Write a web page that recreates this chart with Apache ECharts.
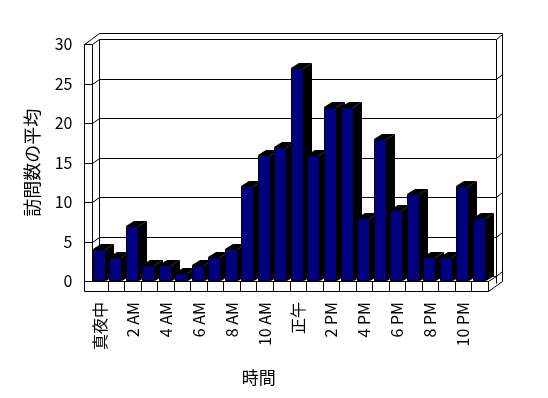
<html>
<head>
    <meta charset='utf-8'/>
    <title>訪問数の平均</title>
    <style>
        body { margin: 0; padding: 0; background: #fff; }
        #chart { width: 548px; height: 398px; }
    </style>
</head>
<body>
<div id='chart'></div>
<script src="https://cdn.jsdelivr.net/npm/echarts@6/dist/echarts.min.js"></script>
<script type="text/javascript">
    var hours = ['真夜中', '1 AM', '2 AM', '3 AM', '4 AM', '5 AM', '6 AM', '7 AM', '8 AM', '9 AM', '10 AM', '11 AM',
        '正午', '1 PM', '2 PM', '3 PM', '4 PM', '5 PM', '6 PM', '7 PM', '8 PM', '9 PM', '10 PM', '11 PM'];
    var visits = [4, 3, 7, 2, 2, 1, 2, 3, 4, 12, 16, 17, 27, 16, 22, 22, 8, 18, 9, 11, 3, 3, 12, 8];
    var yTicks = [0, 5, 10, 15, 20, 25, 30];

    var font = "'Noto Sans CJK JP', sans-serif";
    var DX = 7.5, DY = -5;   // depth of the box
    var WALL = 8;            // left wall / floor thickness

    function px(v) { return Math.round(v) + 0.5; }

    // front-plane edges in pixels
    function edges(api) {
        var band = api.size([1, 0])[0];
        var first = api.coord([0, 0]);
        var last = api.coord([hours.length - 1, 30]);
        return {
            band: band,
            L: first[0] - band / 2,
            R: last[0] + band / 2,
            Y0: first[1],
            YT: last[1]
        };
    }

    var lineStyle = {stroke: '#000', lineWidth: 1, fill: null};

    function renderGrid(params, api) {
        var e = edges(api);
        var y = api.coord([0, api.value(0)])[1];
        return {
            type: 'polyline',
            shape: {points: [
                [px(e.L - WALL), px(y)], [px(e.L), px(y)],
                [px(e.L + DX), px(y + DY)], [px(e.R + DX), px(y + DY)],
                [px(e.R + DX + 6), px(y + DY - 5)]
            ]},
            style: lineStyle
        };
    }

    function renderFrame(params, api) {
        var e = edges(api);
        var fl = e.Y0 + 10;   // floor front bottom
        var children = [
            // outer outline
            {type: 'polyline', shape: {points: [
                [px(e.L - WALL), px(fl)], [px(e.L - WALL), px(e.YT)],
                [px(e.L - WALL + DX), px(e.YT + DY)], [px(e.L + DX), px(e.YT + DY - 6)],
                [px(e.R + DX + 6), px(e.YT + DY - 6)], [px(e.R + DX + 6), px(e.Y0)],
                [px(e.R), px(fl)], [px(e.L - WALL), px(fl)]
            ]}, style: lineStyle},
            // inner edges
            {type: 'polyline', shape: {points: [
                [px(e.L), px(e.Y0)], [px(e.L), px(e.YT)]
            ]}, style: lineStyle},
            {type: 'polyline', shape: {points: [
                [px(e.L + DX), px(e.Y0 + DY)], [px(e.L + DX), px(e.YT + DY)]
            ]}, style: lineStyle},
            {type: 'polyline', shape: {points: [
                [px(e.R + DX), px(e.YT + DY)], [px(e.R + DX), px(e.Y0 + 2)]
            ]}, style: lineStyle},
            {type: 'polyline', shape: {points: [
                [px(e.R), px(fl)], [px(e.R), px(e.Y0)], [px(e.R + DX), px(e.Y0 + DY)]
            ]}, style: lineStyle}
        ];
        return {type: 'group', children: children};
    }

    function renderBar(params, api) {
        var e = edges(api);
        var c = api.coord([api.value(0), api.value(1)]);
        var base = api.coord([api.value(0), 0]);
        var x0 = Math.round(c[0] - e.band / 2 + 1.2);
        var x1 = Math.round(x0 + e.band * 0.8);
        var yt = Math.round(c[1]);
        var yb = Math.round(base[1]);
        var dx = Math.round(DX), dy = DY;
        return {
            type: 'group',
            children: [
                {type: 'polygon', shape: {points: [[x1, yt], [x1 + dx, yt + dy], [x1 + dx, yb + dy], [x1, yb]]},
                    style: {fill: '#000'}},
                {type: 'polygon', shape: {points: [[x0, yt], [x0 + dx, yt + dy], [x1 + dx, yt + dy], [x1, yt]]},
                    style: {fill: '#000'}},
                {type: 'rect', shape: {x: x0 + 0.5, y: yt + 0.5, width: x1 - x0 - 1, height: yb - yt - 1},
                    style: {fill: '#000080', stroke: '#000', lineWidth: 1}}
            ]
        };
    }

    var chart = echarts.init(document.getElementById('chart'), null, {renderer: 'canvas'});
    chart.setOption({
        backgroundColor: '#fff',
        animation: false,
        grid: {left: 91.5, right: 60, top: 44.3, bottom: 117},
        xAxis: {
            type: 'category',
            data: hours,
            name: '時間',
            nameLocation: 'middle',
            nameGap: 88,
            nameTextStyle: {color: '#000', fontSize: 17, fontFamily: font, padding: [0, 62, 0, 0]},
            axisLine: {show: true, lineStyle: {color: '#000', width: 1}},
            axisTick: {
                show: true, inside: false, length: 10,
                interval: function (index) { return index > 0; },
                lineStyle: {color: '#000'}
            },
            axisLabel: {
                interval: 1, rotate: 90, margin: 21,
                color: '#000', fontSize: 16, fontFamily: font
            }
        },
        yAxis: {
            type: 'value',
            min: 0, max: 30, interval: 5,
            name: '訪問数の平均',
            nameLocation: 'middle',
            nameRotate: 90,
            nameGap: 50,
            nameTextStyle: {color: '#000', fontSize: 18, fontFamily: font},
            axisLine: {show: false},
            axisTick: {show: false},
            splitLine: {show: false},
            axisLabel: {margin: 19, color: '#000', fontSize: 16, fontFamily: font}
        },
        series: [
            {
                type: 'custom',
                name: 'grid',
                z: 1,
                renderItem: renderGrid,
                data: yTicks.map(function (v) { return [v]; }),
                silent: true
            },
            {
                type: 'custom',
                name: 'frame',
                z: 1,
                renderItem: renderFrame,
                data: [[0]],
                silent: true
            },
            {
                type: 'custom',
                name: '訪問数の平均',
                z: 3,
                renderItem: renderBar,
                data: visits.map(function (v, i) { return [i, v]; })
            }
        ]
    });
</script>
</body>
</html>
